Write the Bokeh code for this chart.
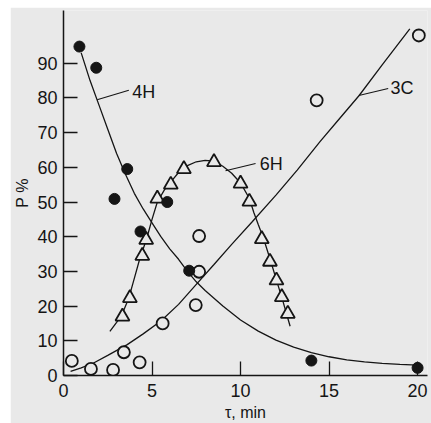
from bokeh.plotting import figure
from bokeh.models import Range1d, FixedTicker
from bokeh.embed import file_html
from bokeh.resources import INLINE
from bokeh.core.properties import value

# ---- measured points ----
t_4h = [0.9, 1.85, 2.88, 3.6, 4.35, 5.86, 7.1, 14.0, 20.0]
p_4h = [94.8, 88.7, 50.9, 59.5, 41.5, 50.0, 30.2, 4.3, 2.2]

t_3c = [0.47, 1.55, 2.8, 3.41, 4.3, 5.6, 7.47, 7.66, 7.66, 14.3, 20.07]
p_3c = [4.2, 1.9, 1.6, 6.7, 3.8, 15.0, 20.3, 29.9, 40.2, 79.3, 98.0]

t_6h = [3.33, 3.75, 4.45, 4.67, 5.3, 6.06, 6.8, 8.5, 10.0, 10.5, 11.2, 11.66, 12.03, 12.33, 12.67]
p_6h = [17.0, 22.3, 34.5, 39.1, 51.0, 55.0, 59.5, 61.5, 55.3, 50.1, 39.3, 32.8, 27.4, 22.6, 17.8]

# ---- fitted curves ----
ct_4h = [1.0, 1.5, 2.0, 2.5, 3.0, 3.5, 4.0, 4.5, 5.0, 5.5, 6.0, 6.5, 7.0, 7.5, 8.0, 9.0,
         10.0, 11.0, 12.0, 13.0, 14.0, 15.0, 16.0, 17.0, 18.0, 19.0, 20.0]
cp_4h = [93.0, 85.0, 78.0, 71.0, 64.0, 58.0, 52.5, 48.0, 44.0, 40.0, 36.5, 33.5, 30.0, 27.0,
         24.5, 20.0, 16.0, 12.8, 10.2, 8.2, 6.6, 5.4, 4.5, 3.9, 3.5, 3.2, 3.0]

ct_3c = [0.4, 1.0, 1.7, 2.5, 3.6, 4.5, 5.5, 6.5, 7.4, 8.5, 9.5, 10.66, 12.0, 13.2, 14.5,
         15.5, 16.7, 18.0, 19.56]
cp_3c = [1.2, 2.2, 3.6, 5.8, 8.9, 12.0, 15.7, 20.5, 25.7, 32.0, 37.8, 44.3, 52.0, 59.2, 67.5,
         73.5, 80.7, 89.5, 99.9]

ct_6h = [2.62, 3.0, 3.3, 3.7, 4.0, 4.3, 4.7, 5.0, 5.3, 5.7, 6.1, 6.5, 7.0, 7.5, 8.0, 8.5,
         9.0, 9.5, 10.0, 10.5, 10.75, 11.0, 11.3, 11.7, 12.0, 12.4, 12.8]
cp_6h = [12.7, 15.3, 17.5, 22.5, 28.0, 33.5, 39.5, 45.0, 50.0, 53.5, 56.0, 58.5, 60.5, 61.6,
         62.0, 61.8, 60.3, 58.3, 55.5, 51.0, 47.0, 43.5, 39.5, 33.0, 28.0, 21.3, 14.2]

# ---- tick labels ----
x_ticks = [0, 5, 10, 15, 20]
y_ticks = [0, 10, 20, 30, 40, 50, 60, 70, 80, 90]

# ---- curve labels ----
lab_text = ["4H", "6H", "3C"]
lab_x = [3.88, 11.09, 18.47]
lab_y = [81.6, 61.1, 82.8]
lead_x0 = [1.9, 9.15, 16.68]
lead_y0 = [79.5, 59.0, 80.7]
lead_x1 = [3.69, 10.85, 18.34]
lead_y1 = [82.2, 61.1, 82.7]

BG = "#e9e9e9"
INK = "#151515"
FONT = "Liberation Sans"

p = figure(width=421, height=416, output_backend="svg", toolbar_location=None,
           x_range=Range1d(0, 20.56), y_range=Range1d(0, 105.2),
           min_border_left=53, min_border_right=4, min_border_top=3, min_border_bottom=47)
p.margin = (7, 0, 0, 10)
p.background_fill_color = BG
p.border_fill_color = BG
p.outline_line_color = None
p.grid.visible = False

for ax in (p.xaxis[0], p.yaxis[0]):
    ax.axis_line_color = INK
    ax.axis_line_width = 1.5
    ax.major_tick_line_color = INK
    ax.major_tick_line_width = 1.3
    ax.major_tick_in = 14
    ax.major_tick_out = 0
    ax.minor_tick_line_color = None
    ax.major_label_text_font = FONT
    ax.major_label_text_font_size = "18px"
    ax.major_label_text_color = INK
    ax.axis_label_text_font = FONT
    ax.axis_label_text_font_size = "16px"
    ax.axis_label_text_font_style = "normal"
    ax.axis_label_text_color = INK

p.xaxis.ticker = FixedTicker(ticks=x_ticks)
p.yaxis.ticker = FixedTicker(ticks=y_ticks)
p.xaxis.axis_label = "τ, min"
p.yaxis.axis_label = "P %"
p.xaxis.major_label_standoff = 8
p.yaxis.major_label_standoff = 6
p.xaxis.axis_label_standoff = 4
p.yaxis.axis_label_standoff = 3

# curves
p.line(ct_4h, cp_4h, line_color=INK, line_width=1.3)
p.line(ct_3c, cp_3c, line_color=INK, line_width=1.3)
p.line(ct_6h, cp_6h, line_color=INK, line_width=1.3)

# leaders + labels
p.segment(x0=lead_x0, y0=lead_y0, x1=lead_x1, y1=lead_y1, line_color=INK, line_width=1.1)
p.text(x=lab_x, y=lab_y, text=lab_text, text_font=value(FONT), text_font_size="18px",
       text_color=INK, text_align="left", text_baseline="middle")

# markers
p.scatter(t_6h, p_6h, marker="triangle", size=14, fill_color=BG, line_color=INK, line_width=1.8)
p.scatter(t_3c, p_3c, marker="circle", size=12, fill_color=BG, line_color=INK, line_width=1.8)
p.scatter(t_4h, p_4h, marker="circle", size=11, fill_color=INK, line_color=INK, line_width=1)

open("out.html", "w").write(file_html(p, INLINE))
